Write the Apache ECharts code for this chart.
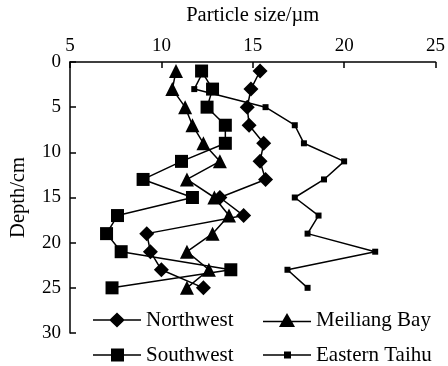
<!DOCTYPE html>
<html>
<head>
<meta charset="utf-8">
<script src="https://cdn.jsdelivr.net/npm/echarts@6/dist/echarts.min.js"></script>
<style>html,body{margin:0;padding:0;background:#fff}#c{width:448px;height:366px}</style>
</head>
<body>
<div id="c"></div>
<script>
const depths = [1, 3, 5, 7, 9, 11, 13, 15, 17, 19, 21, 23, 25];
const northwest = [15.4, 14.9, 14.7, 14.8, 15.6, 15.4, 15.7, 13.2, 14.5, 9.2, 9.4, 10.0, 12.3];
const meiliangBay = [10.8, 10.6, 11.3, 11.7, 12.3, 13.2, 11.4, 12.9, 13.7, 12.8, 11.4, 12.6, 11.4];
const southwest = [12.2, 12.8, 12.5, 13.5, 13.5, 11.1, 9.0, 11.7, 7.6, 7.0, 7.8, 13.8, 7.3];
const easternTaihu = [12.3, 11.8, 15.7, 17.3, 17.8, 20.0, 18.9, 17.3, 18.6, 18.0, 21.7, 16.9, 18.0];
const xTicks = [5, 25, 5];   // min, max, interval
const yTicks = [0, 30, 5];

const FONT = 'Liberation Serif';
function pairs(vals) { return vals.map((v, i) => [v, depths[i]]); }
function mkSeries(name, vals, symbol, size) {
  return {
    name, type: 'line', data: pairs(vals), symbol, symbolSize: size,
    lineStyle: { color: '#000', width: 1.5 }, itemStyle: { color: '#000' },
    showAllSymbol: true, animation: false
  };
}
// legend icons: line + marker glyph
const ICONS = {
  'Northwest': { h: 15, path: 'path://M0,6.75L17,6.75L24,0L31,6.75L48,6.75L48,8.25L31,8.25L24,15L17,8.25L0,8.25Z' },
  'Meiliang Bay': { h: 14, path: 'path://M0,7.75L19.5,7.75L24,0L28.5,7.75L48,7.75L48,9.25L29.4,9.25L32,14L16,14L18.6,9.25L0,9.25Z' },
  'Southwest': { h: 13, path: 'path://M0,5.75L18,5.75L18,0L31,0L31,5.75L48,5.75L48,7.25L31,7.25L31,13L18,13L18,7.25L0,7.25Z' },
  'Eastern Taihu': { h: 7, path: 'path://M0,2.75L21,2.75L21,0L28,0L28,2.75L48,2.75L48,4.25L28,4.25L28,7L21,7L21,4.25L0,4.25Z' }
};
function mkLegend(name, left, centerY) {
  const ic = ICONS[name];
  return {
    data: [{ name, icon: ic.path }], left, top: centerY - 11, padding: 0,
    itemWidth: 48, itemHeight: ic.h, symbolKeepAspect: false,
    itemStyle: { color: '#000', borderWidth: 0 },
    textStyle: { fontFamily: FONT, fontSize: 21, color: '#000', lineHeight: 22 }
  };
}
const chart = echarts.init(document.getElementById('c'), null, { renderer: 'canvas' });
chart.setOption({
  animation: false,
  backgroundColor: '#fff',
  grid: { left: 69, right: 12, top: 62, bottom: 33 },
  legend: [
    mkLegend('Northwest', 93, 320),
    mkLegend('Meiliang Bay', 263, 320),
    mkLegend('Southwest', 93, 355),
    mkLegend('Eastern Taihu', 263, 355)
  ],
  xAxis: {
    type: 'value', position: 'top', min: xTicks[0], max: xTicks[1], interval: xTicks[2],
    name: 'Particle size/µm', nameLocation: 'middle', nameGap: 36,
    nameTextStyle: { fontFamily: FONT, fontSize: 20.5, color: '#000' },
    axisLine: { show: true, lineStyle: { color: '#000', width: 1.5 } },
    axisTick: { show: true, inside: true, length: 6, lineStyle: { color: '#000', width: 1.5 } },
    axisLabel: { margin: 6, fontFamily: FONT, fontSize: 19, color: '#000' },
    splitLine: { show: false }
  },
  yAxis: {
    type: 'value', inverse: true, min: yTicks[0], max: yTicks[1], interval: yTicks[2],
    name: 'Depth/cm', nameLocation: 'middle', nameGap: 41, nameRotate: 90,
    nameTextStyle: { fontFamily: FONT, fontSize: 20.5, color: '#000' },
    axisLine: { show: true, lineStyle: { color: '#000', width: 1.5 } },
    axisTick: { show: true, inside: true, length: 6, lineStyle: { color: '#000', width: 1.5 } },
    axisLabel: { margin: 9, fontFamily: FONT, fontSize: 19, color: '#000' },
    splitLine: { show: false }
  },
  series: [
    mkSeries('Eastern Taihu', easternTaihu, 'rect', 6),
    mkSeries('Meiliang Bay', meiliangBay, 'triangle', 14),
    mkSeries('Southwest', southwest, 'rect', 13),
    mkSeries('Northwest', northwest, 'diamond', 15)
  ]
});
</script>
</body>
</html>
